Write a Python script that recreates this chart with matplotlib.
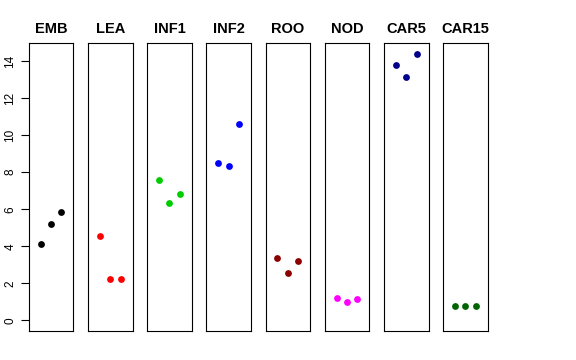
import matplotlib
matplotlib.use("Agg")
import matplotlib.pyplot as plt

plt.rcParams["font.family"] = ["Liberation Sans", "DejaVu Sans"]

groups = ["EMB", "LEA", "INF1", "INF2", "ROO", "NOD", "CAR5", "CAR15"]
colors = ["black", "#FF0000", "#00CD00", "#0000FF", "#8B0000", "#FF00FF", "#00008B", "#006400"]
values = [
    [4.11, 5.22, 5.85],
    [4.58, 2.24, 2.24],
    [7.59, 6.33, 6.82],
    [8.49, 8.33, 10.62],
    [3.39, 2.55, 3.19],
    [1.18, 1.00, 1.13],
    [13.79, 13.14, 14.36],
    [0.79, 0.79, 0.79],
]
yticks = [0, 2, 4, 6, 8, 10, 12, 14]


def main():
    W, H = 576, 360
    fig = plt.figure(figsize=(W / 100, H / 100), dpi=100)
    left0, width, step = 28.7, 44.6, 59.2
    top, bottom = 43.0, 331.0
    for i, (name, col, vals) in enumerate(zip(groups, colors, values)):
        x0 = left0 + i * step
        ax = fig.add_axes([x0 / W, 1 - bottom / H, width / W, (bottom - top) / H])
        ax.scatter([1, 2, 3], vals, s=24, color=col, zorder=3, linewidths=0)
        ax.set_xlim(-0.16, 4.16)
        ax.set_ylim(-0.576, 14.976)
        ax.set_xticks([])
        for sp in ax.spines.values():
            sp.set_linewidth(0.8)
            sp.set_color("black")
        ax.set_title(name, fontsize=10.5, fontweight="bold", pad=7)
        if i == 0:
            ax.set_yticks(yticks)
            ax.set_yticklabels([str(t) for t in yticks], rotation=90, va="center", fontsize=8.5)
            ax.tick_params(axis="y", length=6, width=0.8, pad=3)
        else:
            ax.set_yticks([])
    plt.savefig("out.png", dpi=100)


if __name__ == "__main__":
    main()
